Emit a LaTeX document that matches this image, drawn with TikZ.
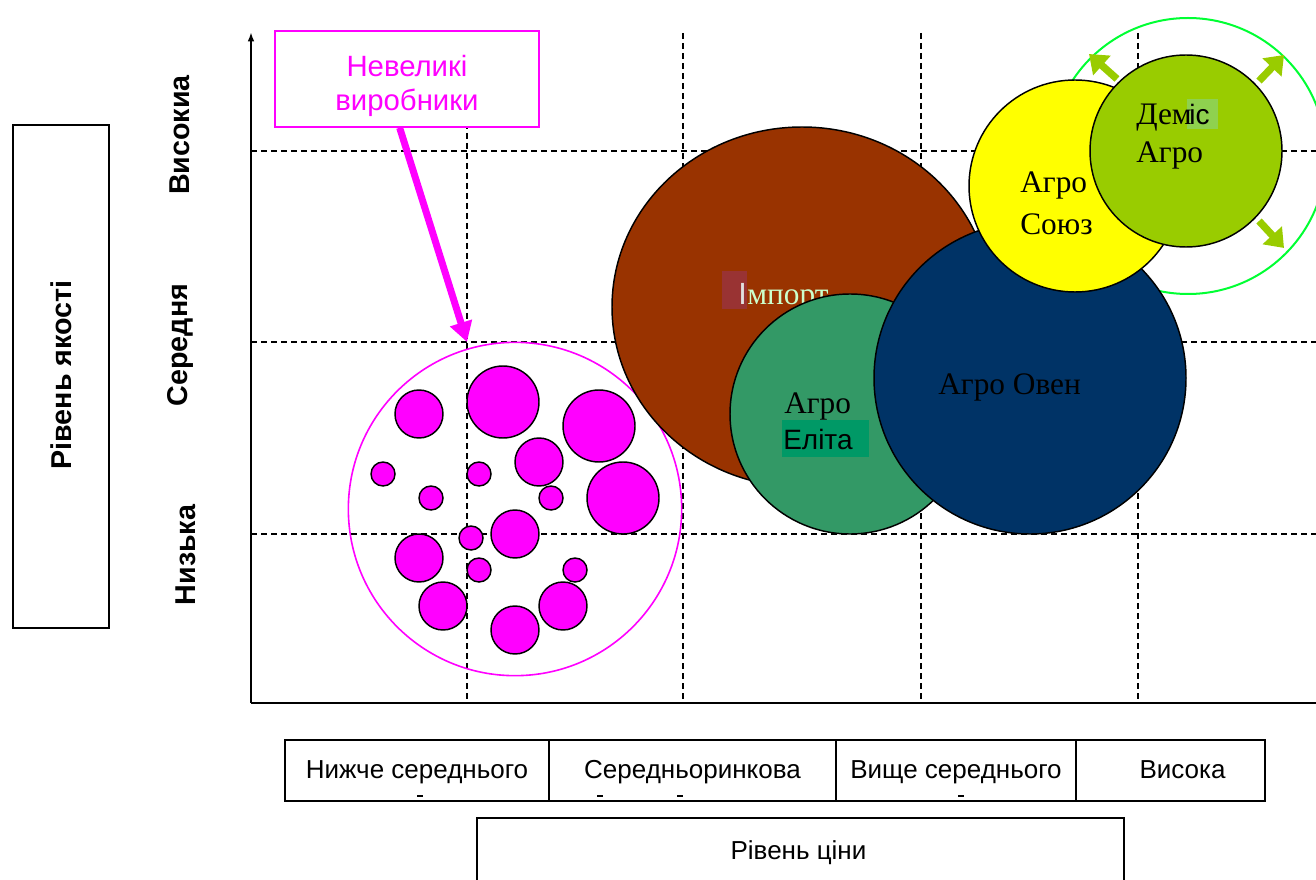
\documentclass[tikz,border=0pt]{standalone}
\usepackage{fontspec}
\setmainfont{Liberation Serif}
\setsansfont{Liberation Sans}
\usetikzlibrary{arrows.meta,shapes.geometric}
\definecolor{brownI}{HTML}{993300}
\definecolor{elita}{HTML}{339966}
\definecolor{oven}{HTML}{003366}
\definecolor{demis}{HTML}{99CC00}
\definecolor{ring}{HTML}{00FF33}
\definecolor{mag}{HTML}{FF00FF}
\definecolor{impbg}{HTML}{993333}
\definecolor{imptext}{HTML}{CCFFCC}
\definecolor{elbg}{HTML}{009966}
\definecolor{isbg}{HTML}{8FD14F}
\definecolor{soyuz}{HTML}{FFFF00}
\tikzset{
  gridline/.style={dashed, dash pattern=on 4.5pt off 3pt, line width=0.9pt, black},
  axisline/.style={line width=1.5pt, black},
  bub/.style={circle, draw=black, line width=1.1pt, inner sep=0pt, minimum size=#1*1.5pt},
  small/.style={bub=#1, fill=mag},
  sertext/.style={font=\fontsize{23.5}{28}\selectfont, inner sep=0pt, anchor=base west},
  cell/.style={draw=black, line width=1pt, inner sep=0pt, minimum height=45.75pt, text height=15pt, text depth=3pt, font=\sffamily\fontsize{19.5}{22}\selectfont},
  ylab/.style={rotate=90, font=\sffamily\bfseries\fontsize{21.5}{24}\selectfont, inner sep=0pt},
  growarrow/.style={demis, line width=5.5pt, -{Triangle[length=13pt, width=19pt]}},
}
\begin{document}
\begin{tikzpicture}[x=0.75pt, y=-0.75pt]
\useasboundingbox (0,0) rectangle (1316,880);
% grid
\foreach \yy in {151,342,534} \draw[gridline] (251,\yy) -- (1316,\yy);
\foreach \xx in {467,683,921,1138} \draw[gridline] (\xx,33) -- (\xx,703);
% axes
\coordinate (O) at (251,703);
\coordinate (Ytop) at (251,32);
\coordinate (Xend) at (1316,703);
\draw[axisline, -{Latex[length=7pt, width=5pt]}] (O) -- (Ytop);
\draw[axisline] (O) -- (Xend);
% ring around Demis
\node[circle, draw=ring, line width=1.5pt, minimum size=207pt, inner sep=0pt] (ringc) at (1188,156) {};
% small producers
\node[circle, draw=mag, line width=1.2pt, minimum size=250pt, inner sep=0pt] (smallgroup) at (515,509) {};
\node[small=24] (s1) at (419,414) {};
\node[small=36] (s2) at (503,402) {};
\node[small=36] (s3) at (599,426) {};
\node[small=12] (s4) at (383,474) {};
\node[small=12] (s5) at (479,474) {};
\node[small=24] (s6) at (539,462) {};
\node[small=12] (s7) at (431,498) {};
\node[small=12] (s8) at (551,498) {};
\node[small=36] (s9) at (623,498) {};
\node[small=24] (s10) at (515,534) {};
\node[small=12] (s11) at (471,538) {};
\node[small=24] (s12) at (419,558) {};
\node[small=12] (s13) at (479,570) {};
\node[small=12] (s14) at (575,570) {};
\node[small=24] (s15) at (443,606) {};
\node[small=24] (s16) at (563,606) {};
\node[small=24] (s17) at (515,630) {};
% Import
\node[ellipse, draw=black, line width=1.1pt, fill=brownI, minimum width=285pt, minimum height=270pt, inner sep=0pt] (imp) at (802,307) {};
\fill[impbg] (722,271) rectangle (747,309);
\node[anchor=base west, inner sep=0pt, text=white!88!black, font=\sffamily\fontsize{23}{28}\selectfont] (impI) at (738,305) {І};
\node[sertext, text=imptext] (impT) at (747,305) {мпорт};
% Agro Elita
\node[bub=120, fill=elita] (el) at (850,414) {};
\node[sertext] (elA) at (784,413) {Агро};
\fill[elbg] (782,420) rectangle (869,457);
\node[anchor=base west, inner sep=0pt, font=\sffamily\fontsize{21}{26}\selectfont] (elB) at (783,449) {Еліта};
% Agro Oven
\node[bub=156, fill=oven] (ov) at (1030,378) {};
\node[sertext] (ovT) at (938,394) {Агро Овен};
% Agro Soyuz
\node[bub=106, fill=soyuz] (so) at (1075,186) {};
\node[sertext] (soA) at (1020,193) {Агро};
\node[sertext] (soB) at (1020,235) {Союз};
% Demis Agro
\node[bub=96, fill=demis] (de) at (1186,151) {};
\fill[isbg] (1187,99) rectangle (1218,129);
\node[sertext] (deA) at (1136,125) {Дем};
\node[anchor=base west, inner sep=0pt, font=\sffamily\fontsize{21}{26}\selectfont] (deB) at (1189,125) {іс};
\node[sertext] (deC) at (1136,163) {Агро};
% growth arrows
\coordinate (a1s) at (1117,79); \coordinate (a1e) at (1089,54);
\coordinate (a2s) at (1259,81); \coordinate (a2e) at (1284,55);
\coordinate (a3s) at (1259,221); \coordinate (a3e) at (1284,248);
\draw[growarrow] (a1s) -- (a1e);
\draw[growarrow] (a2s) -- (a2e);
\draw[growarrow] (a3s) -- (a3e);
% small producers label
\node[draw=mag, line width=1.2pt, fill=white, minimum width=198pt, minimum height=72pt, inner sep=0pt, text=mag] (nev) at (407,79) {};
\node[align=center, text=mag, inner sep=0pt, font=\sffamily\fontsize{22}{25}\selectfont] (nevT) at (407,86) {Невеликі\\виробники};
\coordinate (nevTip) at (467,342);
\draw[mag, line width=5.25pt, -{Triangle[length=15pt, width=16.5pt]}] ([xshift=-5.5pt]nev.south) -- (nevTip);
% quality axis labels
\node[draw=black, line width=1pt, minimum width=72pt, minimum height=377pt, inner sep=0pt] (qbox) at (61,376.5) {};
\node[ylab] (qlab) at (61,375) {Рівень якості};
\node[ylab] (qh) at (180,135) {Високиа};
\node[ylab] (qm) at (180,345) {Середня};
\node[ylab] (ql) at (186,555) {Низька};
% price table
\node[cell, minimum width=198pt] (p1) at (417,770.5) {Нижче середнього};
\node[cell, minimum width=215.25pt] (p2) at (692.5,770.5) {Середньоринкова};
\node[cell, minimum width=180pt] (p3) at (956,770.5) {Вище середнього};
\node[cell, minimum width=141.75pt] (p4) at (1170.5,770.5) {\hspace*{18pt}Висока};
\foreach \xx in {420,600,680,961} \draw[line width=1.2pt] (\xx-3,796) -- (\xx+3,796);
\node[draw=black, line width=1pt, minimum width=485.25pt, minimum height=49.5pt, inner sep=0pt, text height=15pt, text depth=3pt, font=\sffamily\fontsize{19.5}{22}\selectfont] (price) at (800.5,851) {\hspace*{-3pt}Рівень ціни};
\end{tikzpicture}
\end{document}
